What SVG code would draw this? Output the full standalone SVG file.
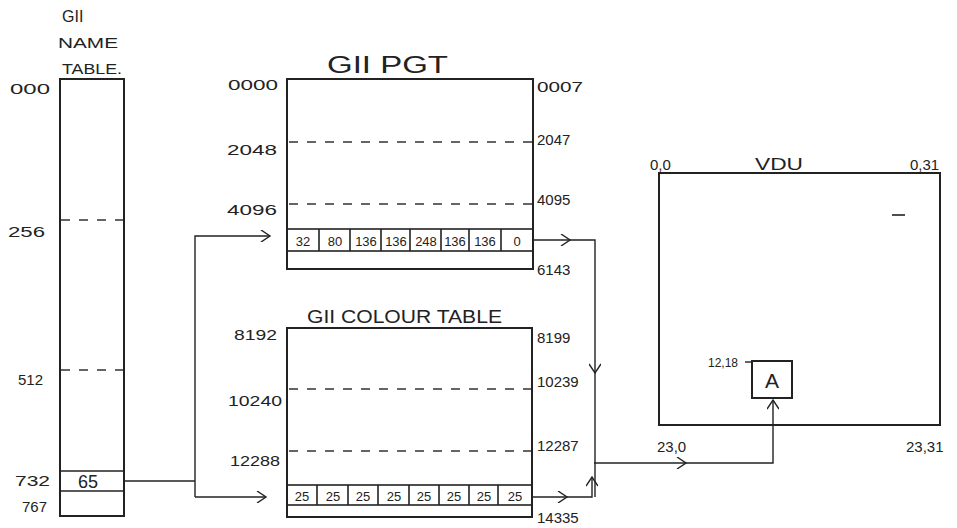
<svg xmlns="http://www.w3.org/2000/svg" width="957" height="528" viewBox="0 0 957 528">
<defs>
<marker id="chev" viewBox="-10 -6 12 12" markerWidth="12" markerHeight="12" refX="0" refY="0" orient="auto" markerUnits="userSpaceOnUse">
<path d="M-9,-6 L0,0 L-9,6" fill="none" stroke="#222" stroke-width="1.4"/>
</marker>
<style>
.box{fill:none;stroke:#222;stroke-width:2}
.row{fill:none;stroke:#222;stroke-width:1.6}
.dash{fill:none;stroke:#333;stroke-width:1.3;stroke-dasharray:9 9}
.con{fill:none;stroke:#222;stroke-width:1.4}
.t{font-family:"Liberation Sans","DejaVu Sans",sans-serif;fill:#222}
.lab{font-size:15px}
.cell{font-size:13px;text-anchor:middle}
</style>
</defs>
<rect width="957" height="528" fill="#fff"/>

<g id="name-table">
<text class="t" x="62" y="22" font-size="16">GII</text>
<text class="t" x="58" y="48" font-size="15" textLength="60" lengthAdjust="spacingAndGlyphs">NAME</text>
<text class="t" x="62" y="74" font-size="14" textLength="60" lengthAdjust="spacingAndGlyphs">TABLE.</text>
<rect class="box" x="60" y="79" width="64" height="437"/>
<line class="dash" x1="61" y1="220" x2="123" y2="220"/>
<line class="dash" x1="61" y1="370" x2="123" y2="370"/>
<line class="row" x1="60" y1="471" x2="124" y2="471"/>
<line class="row" x1="60" y1="491" x2="124" y2="491"/>
<text class="t" x="88" y="488" font-size="18" text-anchor="middle">65</text>
<text class="t lab" x="10" y="94" textLength="40" lengthAdjust="spacingAndGlyphs">000</text>
<text class="t lab" x="8" y="237" textLength="37" lengthAdjust="spacingAndGlyphs">256</text>
<text class="t lab" x="18" y="385">512</text>
<text class="t lab" x="15" y="486" textLength="35" lengthAdjust="spacingAndGlyphs">732</text>
<text class="t lab" x="22" y="512">767</text>
</g>

<g id="pgt">
<text class="t" x="327" y="73" font-size="23" textLength="121" lengthAdjust="spacingAndGlyphs">GII PGT</text>
<rect class="box" x="287" y="79" width="246" height="190"/>
<line class="dash" x1="289" y1="142" x2="532" y2="142"/>
<line class="dash" x1="289" y1="204" x2="532" y2="204"/>
<rect class="row" x="287" y="229" width="246" height="22"/>
<path class="row" d="M319,229V251M350,229V251M381,229V251M410,229V251M441,229V251M469,229V251M501,229V251"/>
<text class="t cell" x="303" y="246" font-size="15">32</text>
<text class="t cell" x="335" y="246" font-size="15">80</text>
<text class="t cell" x="366" y="246">136</text>
<text class="t cell" x="396" y="246">136</text>
<text class="t cell" x="426" y="246">248</text>
<text class="t cell" x="455" y="246">136</text>
<text class="t cell" x="485" y="246">136</text>
<text class="t cell" x="517" y="246" font-size="15">0</text>
<text class="t lab" x="228" y="90" textLength="50" lengthAdjust="spacingAndGlyphs">0000</text>
<text class="t lab" x="227" y="155" textLength="50" lengthAdjust="spacingAndGlyphs">2048</text>
<text class="t lab" x="227" y="215" textLength="50" lengthAdjust="spacingAndGlyphs">4096</text>
<text class="t lab" x="537" y="92" textLength="46" lengthAdjust="spacingAndGlyphs">0007</text>
<text class="t lab" x="537" y="145">2047</text>
<text class="t lab" x="537" y="205">4095</text>
<text class="t lab" x="537" y="275">6143</text>
</g>

<g id="colour-table">
<text class="t" x="307" y="323" font-size="19" textLength="195" lengthAdjust="spacingAndGlyphs">GII COLOUR TABLE</text>
<rect class="box" x="287" y="328" width="245" height="189"/>
<line class="dash" x1="289" y1="389" x2="531" y2="389"/>
<line class="dash" x1="289" y1="451" x2="531" y2="451"/>
<rect class="row" x="287" y="485" width="245" height="20"/>
<path class="row" d="M317,485V505M348,485V505M378,485V505M409,485V505M439,485V505M469,485V505M498,485V505"/>
<text class="t cell" x="302" y="501" font-size="14">25</text>
<text class="t cell" x="333" y="501" font-size="14">25</text>
<text class="t cell" x="363" y="501" font-size="14">25</text>
<text class="t cell" x="394" y="501" font-size="14">25</text>
<text class="t cell" x="424" y="501" font-size="14">25</text>
<text class="t cell" x="454" y="501" font-size="14">25</text>
<text class="t cell" x="484" y="501" font-size="14">25</text>
<text class="t cell" x="515" y="501" font-size="14">25</text>
<text class="t lab" x="234" y="340" textLength="43" lengthAdjust="spacingAndGlyphs">8192</text>
<text class="t lab" x="228" y="406" textLength="54" lengthAdjust="spacingAndGlyphs">10240</text>
<text class="t lab" x="230" y="466" textLength="50" lengthAdjust="spacingAndGlyphs">12288</text>
<text class="t lab" x="537" y="343">8199</text>
<text class="t lab" x="537" y="387" font-size="13">10239</text>
<text class="t lab" x="537" y="451" font-size="13">12287</text>
<text class="t lab" x="537" y="523" font-size="13">14335</text>
</g>

<g id="vdu">
<rect class="box" x="659" y="173" width="281" height="252"/>
<line class="row" x1="892" y1="215" x2="905" y2="215"/>
<text class="t lab" x="650" y="170">0,0</text>
<text class="t" x="755" y="170" font-size="17" textLength="48" lengthAdjust="spacingAndGlyphs">VDU</text>
<text class="t lab" x="910" y="170">0,31</text>
<text class="t lab" x="657" y="452">23,0</text>
<text class="t lab" x="906" y="452">23,31</text>
</g>

<g id="char-a">
<rect class="box" x="752" y="361" width="40" height="37"/>
<text class="t" x="772" y="388" font-size="21" text-anchor="middle">A</text>
<text class="t" x="708" y="367" font-size="12">12,18</text>
<line class="con" x1="745" y1="362" x2="752" y2="362"/>
</g>

<g id="connectors">
<path class="con" d="M124,481 H195"/>
<path class="con" d="M195,497 V236 H270" marker-end="url(#chev)"/>
<path class="con" d="M195,497 H266" marker-end="url(#chev)"/>
<path class="con" d="M533,240 H570" marker-end="url(#chev)"/>
<path class="con" d="M570,240 H595 V373" marker-end="url(#chev)"/>
<path class="con" d="M595,373 V497"/>
<path class="con" d="M532,497 H567" marker-end="url(#chev)"/>
<path class="con" d="M567,497 H592 V477" marker-end="url(#chev)"/>
<path class="con" d="M594,463 H686" marker-end="url(#chev)"/>
<path class="con" d="M686,463 H773 V400" marker-end="url(#chev)"/>
</g>
</svg>
